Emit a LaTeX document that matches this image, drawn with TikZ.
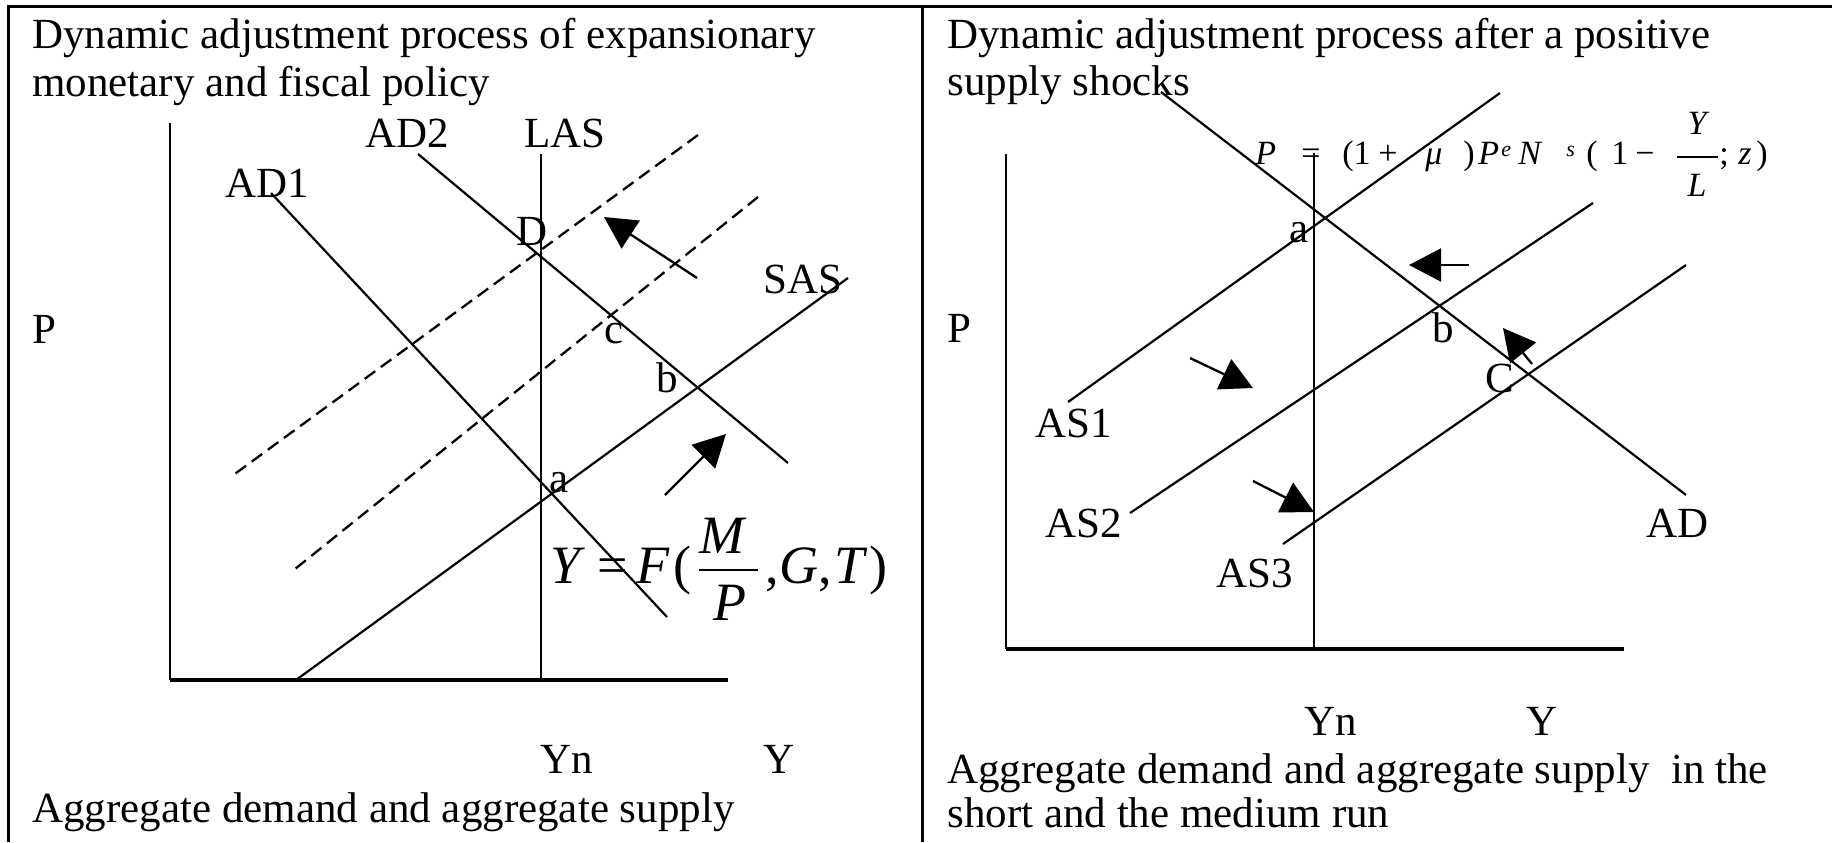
\documentclass[tikz,border=0pt]{standalone}
\usepackage{fontspec}
\setmainfont{Liberation Serif}
\usetikzlibrary{arrows.meta}
\tikzset{
  txt/.style={anchor=base west, inner sep=0pt, font=\fontsize{21.5}{24}\selectfont},
  fbig/.style={anchor=base west, inner sep=0pt, font=\fontsize{27}{30}\selectfont},
  fsm/.style={anchor=base west, inner sep=0pt, font=\fontsize{17}{20}\selectfont},
  fsup/.style={anchor=base west, inner sep=0pt, font=\fontsize{11}{12}\selectfont},
  border/.style={line width=1.5pt},
  axis/.style={line width=1.65pt},
  yax/.style={line width=1.2pt},
  crv/.style={line width=1.1pt},
  dcrv/.style={line width=1.15pt, dash pattern=on 6.5pt off 3.5pt},
  mvarrow/.style={line width=1.15pt, -{Triangle[length=16pt,width=16.5pt]}},
}
\begin{document}
\begin{tikzpicture}[x=0.5pt,y=-0.5pt]
\useasboundingbox (0,0) rectangle (1832,842);
% frame
\draw[border] (7,6.5) -- (1832,6.5);
\draw[border] (8,5) -- (8,842);
\draw[border] (922,5) -- (922,842);

% ---------------- left panel ----------------
\node[txt] (lt1) at (32,48) {Dynamic adjustment process of expansionary};
\node[txt] (lt2) at (32,96) {monetary and fiscal policy};
\coordinate (lO) at (170,680);
\draw[yax] (170,123) -- (lO);
\draw[axis] (lO) -- (728,680);
\draw[crv] (541,154) -- (541,680);
\draw[crv] (271,193) -- (667,617);
\draw[crv] (418,154) -- (788,463);
\draw[crv] (296,680) -- (848,278);
\draw[dcrv] (698,135) -- (232,476);
\draw[dcrv] (758,197) -- (295,569);
\coordinate (la1s) at (697,278); \coordinate (la1e) at (604,217);
\coordinate (la2s) at (665,495); \coordinate (la2e) at (726,434);
\draw[mvarrow] (la1s) -- (la1e);
\draw[mvarrow] (la2s) -- (la2e);
\node[txt] (lP) at (32,343) {P};
\node[txt] (lAD2) at (365,147) {AD2};
\node[txt] (lLAS) at (524,147) {LAS};
\node[txt] (lAD1) at (225,197) {AD1};
\node[txt] (lD) at (516,245) {D};
\node[txt] (lc) at (604,343) {c};
\node[txt] (lb) at (656,392) {b};
\node[txt] (lSAS) at (763,293) {SAS};
\node[txt] (la) at (549,492) {a};
\node[txt] (lYn) at (540,773) {Yn};
\node[txt] (lY) at (763,773) {Y};
\node[txt] (lcap) at (32,822) {Aggregate demand and aggregate supply};
% formula Y = F(M/P,G,T)
\node[fbig] (fY) at (550,583) {\itshape Y};
\node[fbig] (feq) at (597,583) {=};
\node[fbig] (fF) at (636,583) {\itshape F};
\node[fbig] (fpo) at (673,583) {(};
\node[fbig] (fM) at (699,553) {\itshape M};
\draw[crv] (699,570) -- (758,570);
\node[fbig] (fP) at (713,620) {\itshape P};
\node[fbig] (fc1) at (765,583) {,};
\node[fbig] (fG) at (779,583) {\itshape G};
\node[fbig] (fc2) at (818,583) {,};
\node[fbig] (fT) at (834,583) {\itshape T};
\node[fbig] (fpc) at (869,583) {)};

% ---------------- right panel ----------------
\node[txt] (rt1) at (947,48) {Dynamic adjustment process after a positive};
\node[txt] (rt2) at (947,95) {supply shocks};
\coordinate (rO) at (1006,649);
\draw[yax] (1006,154) -- (rO);
\draw[axis] (rO) -- (1624,649);
\draw[crv] (1314,153) -- (1314,649);
\draw[crv] (1161,92) -- (1686,495);
\draw[crv] (1068,402) -- (1500,93);
\draw[crv] (1130,513) -- (1593,203);
\draw[crv] (1283,544) -- (1686,265);
\coordinate (ra1s) at (1469,265); \coordinate (ra1e) at (1409,265);
\coordinate (ra2s) at (1532,364); \coordinate (ra2e) at (1503,328);
\coordinate (ra3s) at (1190,358); \coordinate (ra3e) at (1253,388);
\coordinate (ra4s) at (1253,481); \coordinate (ra4e) at (1314,512);
\draw[mvarrow] (ra1s) -- (ra1e);
\draw[mvarrow] (ra2s) -- (ra2e);
\draw[mvarrow] (ra3s) -- (ra3e);
\draw[mvarrow] (ra4s) -- (ra4e);
\node[txt] (rP) at (947,342) {P};
\node[txt] (ra) at (1289,242) {a};
\node[txt] (rb) at (1432,342) {b};
\node[txt] (rC) at (1485,392) {C};
\node[txt] (rAS1) at (1035,437) {AS1};
\node[txt] (rAS2) at (1045,537) {AS2};
\node[txt] (rAS3) at (1216,587) {AS3};
\node[txt] (rAD) at (1646,537) {AD};
\node[txt] (rYn) at (1304,735) {Yn};
\node[txt] (rY) at (1526,735) {Y};
\node[txt] (rcap1) at (947,783) {Aggregate demand and aggregate supply\ \ in the};
\node[txt] (rcap2) at (947,827) {short and the medium run};
% formula P = (1+mu) P^e N^s (1 - Y/L; z)
\node[fsm] (gP) at (1255,164) {\itshape P};
\node[fsm] (geq) at (1301,164) {=};
\node[fsm] (gpo) at (1342,164) {(1};
\node[fsm] (gpl) at (1378,164) {+};
\node[fsm] (gmu) at (1425,164) {\itshape μ};
\node[fsm] (gpc) at (1463,164) {)};
\node[fsm] (gP2) at (1478,164) {\itshape P};
\node[fsup] (ge) at (1501,156) {\itshape e};
\node[fsm] (gN) at (1518,164) {\itshape N};
\node[fsup] (gs) at (1566,156) {\itshape s};
\node[fsm] (gpo2) at (1586,164) {(};
\node[fsm] (g1) at (1611,164) {1};
\node[fsm] (gmi) at (1635,164) {−};
\node[fsm, anchor=base] (gY) at (1697,134) {\itshape Y};
\draw[line width=0.6pt] (1677,157) -- (1718,157);
\node[fsm, anchor=base] (gL) at (1697,196) {\itshape L};
\node[fsm] (gsc) at (1719,164) {;};
\node[fsm] (gz) at (1738,164) {\itshape z};
\node[fsm] (gpc2) at (1756,164) {)};
\end{tikzpicture}
\end{document}
